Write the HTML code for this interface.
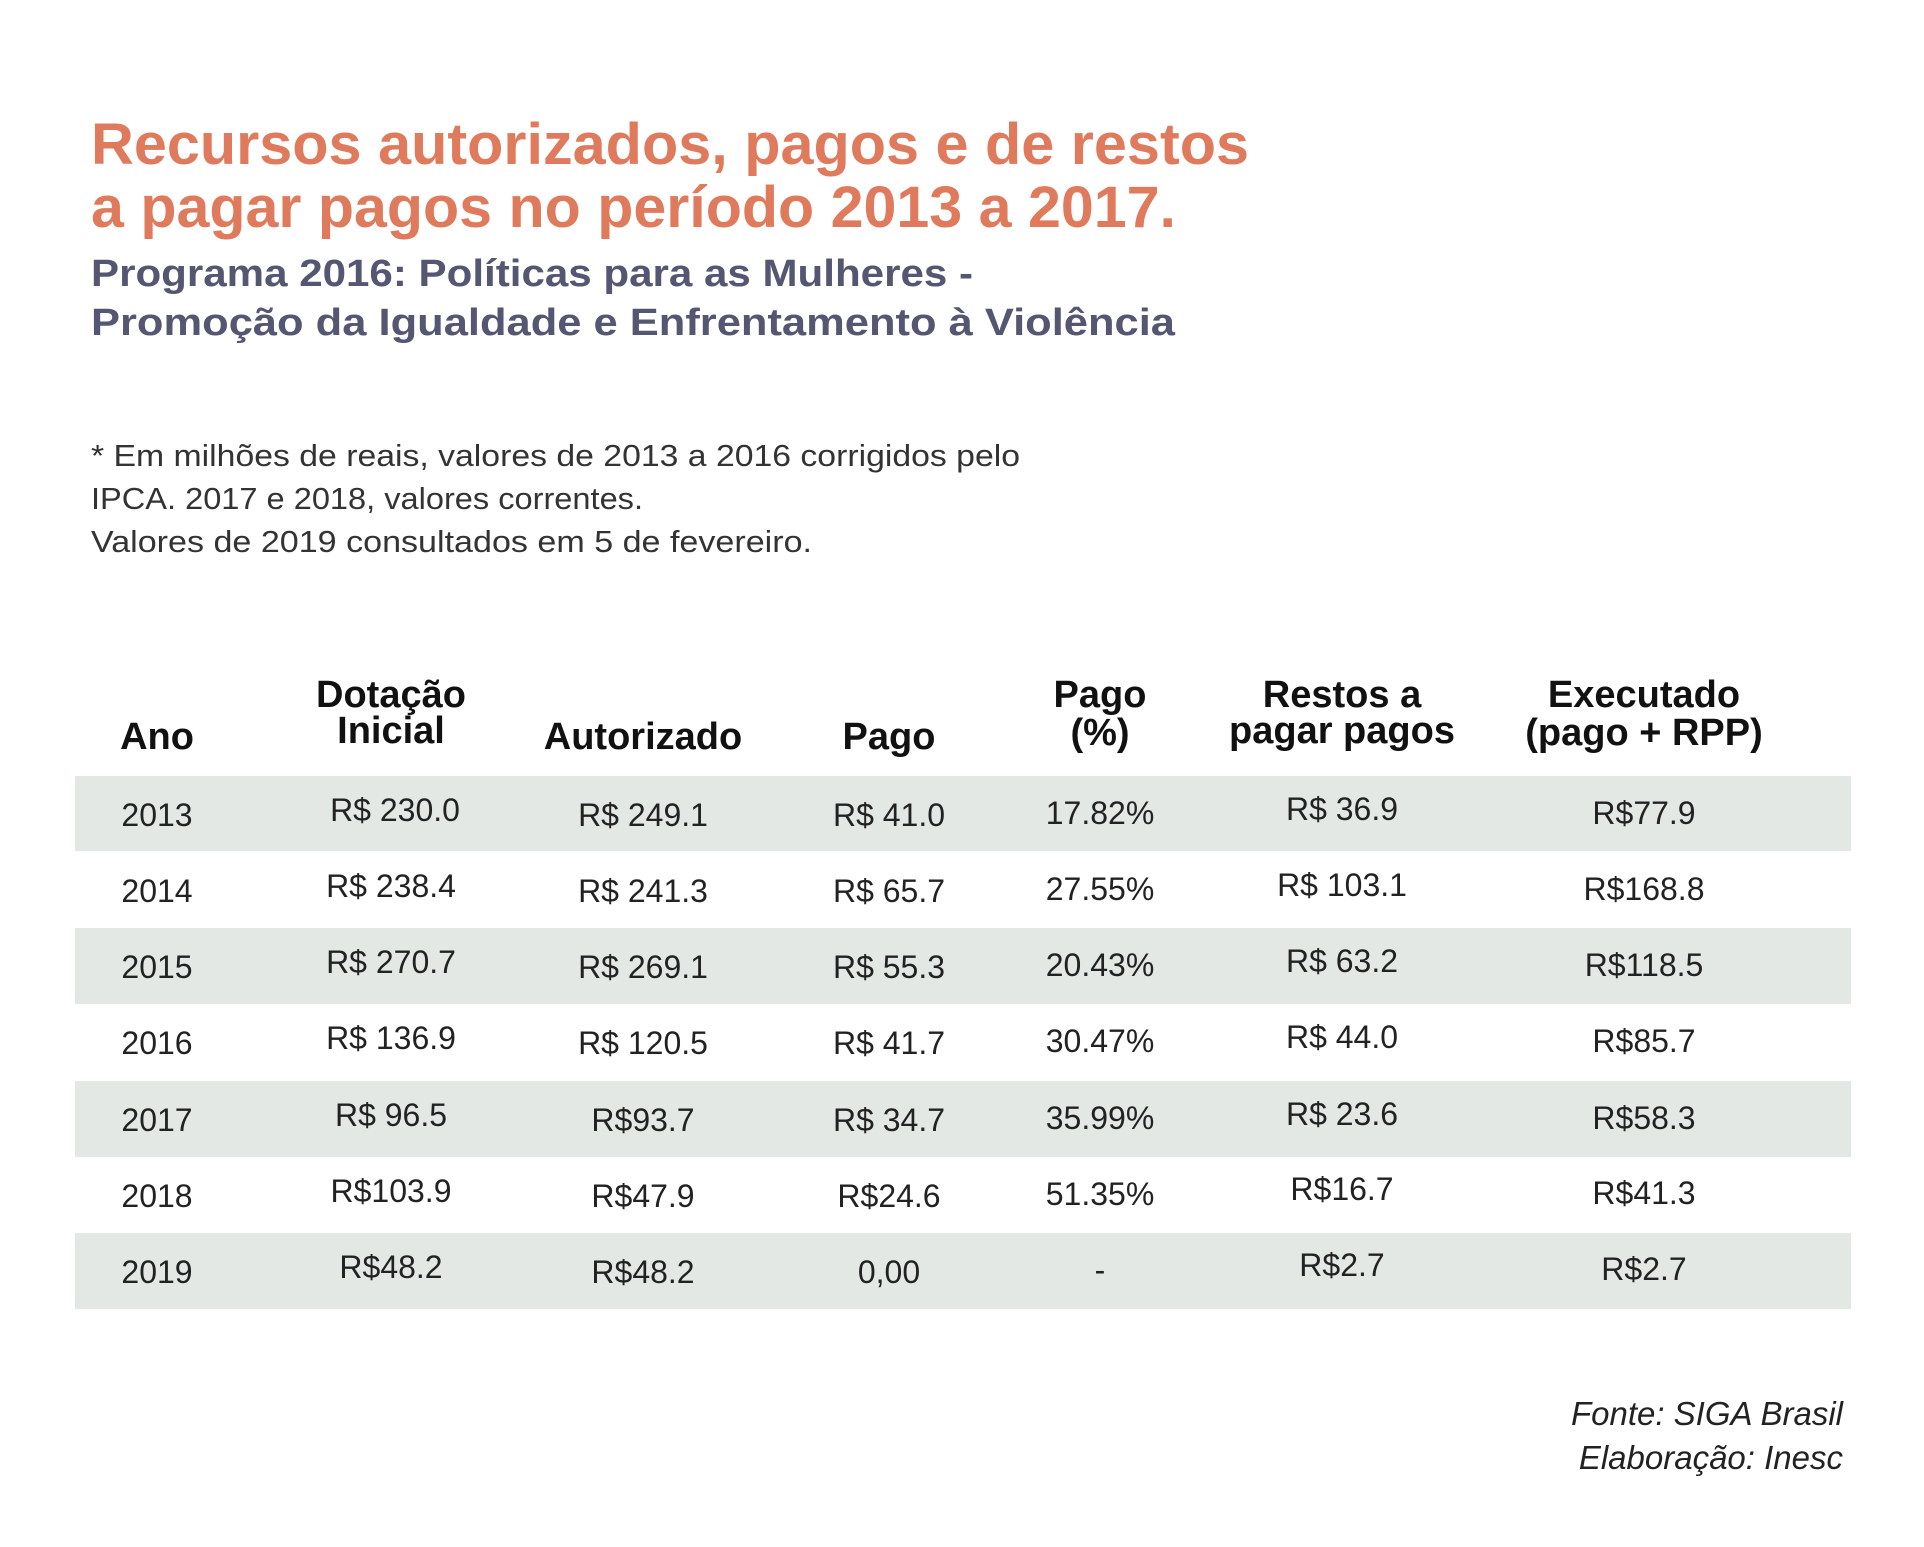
<!DOCTYPE html>
<html><head><meta charset="utf-8"><style>
html,body{margin:0;padding:0;background:#fff;}
svg{display:block;}
text{font-family:"Liberation Sans",sans-serif;}
.t{fill:#e07a5c;font-size:58px;font-weight:bold;}
.s{fill:#555672;font-size:38px;font-weight:bold;}
.n{fill:#333;font-size:31px;}
.h{fill:#111;font-size:38px;font-weight:bold;text-anchor:middle;}
.d{fill:#222;font-size:32px;text-anchor:middle;}
.f{fill:#222;font-size:33px;font-style:italic;text-anchor:end;}
</style></head><body>
<svg width="1924" height="1547" xmlns="http://www.w3.org/2000/svg">
<rect width="1924" height="1547" fill="#fff"/>
<text class="t" x="91" y="164" textLength="1158" lengthAdjust="spacingAndGlyphs">Recursos autorizados, pagos e de restos</text>
<text class="t" x="91" y="227" textLength="1085" lengthAdjust="spacingAndGlyphs">a pagar pagos no período 2013 a 2017.</text>
<text class="s" x="91" y="286" textLength="882" lengthAdjust="spacingAndGlyphs">Programa 2016: Políticas para as Mulheres -</text>
<text class="s" x="91" y="335" textLength="1084" lengthAdjust="spacingAndGlyphs">Promoção da Igualdade e Enfrentamento à Violência</text>
<text class="n" x="91" y="466" textLength="929" lengthAdjust="spacingAndGlyphs">* Em milhões de reais, valores de 2013 a 2016 corrigidos pelo</text>
<text class="n" x="91" y="509" textLength="552" lengthAdjust="spacingAndGlyphs">IPCA. 2017 e 2018, valores correntes.</text>
<text class="n" x="91" y="552" textLength="721" lengthAdjust="spacingAndGlyphs">Valores de 2019 consultados em 5 de fevereiro.</text>

<g fill="#e3e8e4">
<rect x="75" y="776" width="1776" height="75"/>
<rect x="75" y="928" width="1776" height="76"/>
<rect x="75" y="1081" width="1776" height="76"/>
<rect x="75" y="1233" width="1776" height="76"/>
</g>

<text class="h" x="157" y="749">Ano</text>
<text class="h" x="391" y="707">Dotação</text><text class="h" x="391" y="743">Inicial</text>
<text class="h" x="643" y="749">Autorizado</text>
<text class="h" x="889" y="749">Pago</text>
<text class="h" x="1100" y="707">Pago</text><text class="h" x="1100" y="745">(%)</text>
<text class="h" x="1342" y="707">Restos a</text><text class="h" x="1342" y="743">pagar pagos</text>
<text class="h" x="1644" y="707">Executado</text><text class="h" x="1644" y="745">(pago + RPP)</text>

<g>
<text class="d" x="157" y="826">2013</text><text class="d" x="395" y="821">R$ 230.0</text><text class="d" x="643" y="826">R$ 249.1</text><text class="d" x="889" y="826">R$ 41.0</text><text class="d" x="1100" y="824">17.82%</text><text class="d" x="1342" y="820">R$ 36.9</text><text class="d" x="1644" y="824">R$77.9</text>
<text class="d" x="157" y="902">2014</text><text class="d" x="391" y="897">R$ 238.4</text><text class="d" x="643" y="902">R$ 241.3</text><text class="d" x="889" y="902">R$ 65.7</text><text class="d" x="1100" y="900">27.55%</text><text class="d" x="1342" y="896">R$ 103.1</text><text class="d" x="1644" y="900">R$168.8</text>
<text class="d" x="157" y="978">2015</text><text class="d" x="391" y="973">R$ 270.7</text><text class="d" x="643" y="978">R$ 269.1</text><text class="d" x="889" y="978">R$ 55.3</text><text class="d" x="1100" y="976">20.43%</text><text class="d" x="1342" y="972">R$ 63.2</text><text class="d" x="1644" y="976">R$118.5</text>
<text class="d" x="157" y="1054">2016</text><text class="d" x="391" y="1049">R$ 136.9</text><text class="d" x="643" y="1054">R$ 120.5</text><text class="d" x="889" y="1054">R$ 41.7</text><text class="d" x="1100" y="1052">30.47%</text><text class="d" x="1342" y="1048">R$ 44.0</text><text class="d" x="1644" y="1052">R$85.7</text>
<text class="d" x="157" y="1131">2017</text><text class="d" x="391" y="1126">R$ 96.5</text><text class="d" x="643" y="1131">R$93.7</text><text class="d" x="889" y="1131">R$ 34.7</text><text class="d" x="1100" y="1129">35.99%</text><text class="d" x="1342" y="1125">R$ 23.6</text><text class="d" x="1644" y="1129">R$58.3</text>
<text class="d" x="157" y="1207">2018</text><text class="d" x="391" y="1202">R$103.9</text><text class="d" x="643" y="1207">R$47.9</text><text class="d" x="889" y="1207">R$24.6</text><text class="d" x="1100" y="1205">51.35%</text><text class="d" x="1342" y="1200">R$16.7</text><text class="d" x="1644" y="1204">R$41.3</text>
<text class="d" x="157" y="1283">2019</text><text class="d" x="391" y="1278">R$48.2</text><text class="d" x="643" y="1283">R$48.2</text><text class="d" x="889" y="1283">0,00</text><text class="d" x="1100" y="1281">-</text><text class="d" x="1342" y="1276">R$2.7</text><text class="d" x="1644" y="1280">R$2.7</text>
</g>

<text class="f" x="1843" y="1425">Fonte: SIGA Brasil</text>
<text class="f" x="1843" y="1469">Elaboração: Inesc</text>
</svg>
</body></html>
